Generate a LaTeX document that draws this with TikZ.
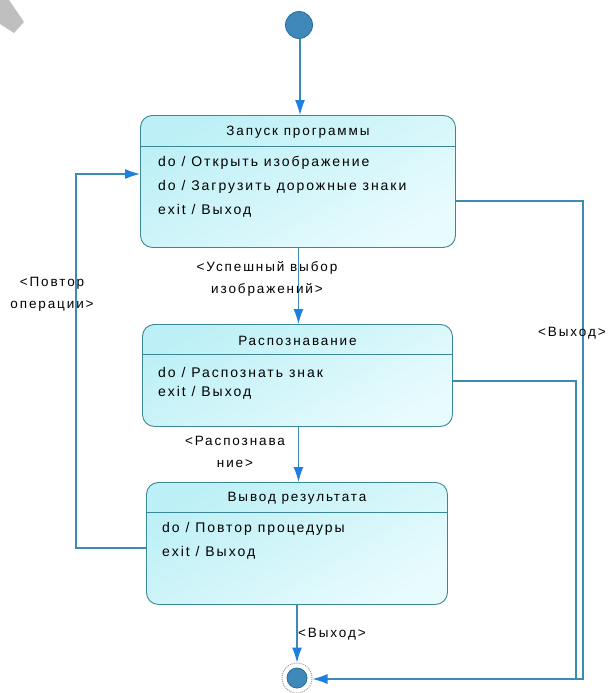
\documentclass[tikz,border=0pt]{standalone}
\usepackage{fontspec}
\setmainfont[LetterSpace=14]{Liberation Sans}
\usetikzlibrary{arrows.meta,calc}
\definecolor{edge}{HTML}{3C8795}
\definecolor{wire}{HTML}{3A8CB0}
\definecolor{tip}{HTML}{1E7FE0}
\definecolor{fillA}{HTML}{BDF0F6}
\definecolor{fillB}{HTML}{E8FBFD}
\definecolor{dot}{HTML}{3F88BA}
\definecolor{dotedge}{HTML}{2A6E9A}
\tikzset{
  statebox/.style={draw=edge, line width=0.9pt, rounded corners=12pt,
    top color=fillA, bottom color=fillB, shading angle=30, inner sep=0pt, anchor=north west},
  ttl/.style={font=\fontsize{13.5}{16}\selectfont, inner sep=0pt},
  act/.style={font=\fontsize{14}{16}\selectfont, inner sep=0pt, anchor=west},
  lbl/.style={font=\fontsize{13.5}{22}\selectfont, inner sep=0pt, align=center},
  wireline/.style={draw=wire, line width=1.2pt},
  arr/.style={wireline, -{Latex[length=15pt,width=10pt,color=tip]}},
}
\begin{document}
\begin{tikzpicture}[x=1pt,y=-1pt]
\useasboundingbox (0,0) rectangle (609,693);
\fill[white] (0,0) rectangle (609,693);
\fill[gray!50] (0,0) -- (9,0) -- (24,22) -- (14,33) -- (0,24) -- cycle;

% states
\node[statebox, minimum width=315pt, minimum height=132pt] (s1) at (140,115) {};
\node[statebox, minimum width=310pt, minimum height=102pt] (s2) at (142,324) {};
\node[statebox, minimum width=301pt, minimum height=122pt] (s3) at (146,482) {};

\draw[edge, line width=0.9pt] (s1.west |- 0,146) -- (s1.east |- 0,146);
\draw[edge, line width=0.9pt] (s2.west |- 0,354) -- (s2.east |- 0,354);
\draw[edge, line width=0.9pt] (s3.west |- 0,512) -- (s3.east |- 0,512);

\node[ttl] (t1) at (s1.north |- 0,132) {Запуск программы};
\node[act] (a11) at (158,163) {do / Открыть изображение};
\node[act] (a12) at (158,187) {do / Загрузить дорожные знаки};
\node[act] (a13) at (158,211) {exit / Выход};

\node[ttl] (t2) at (s2.north |- 0,341) {Распознавание};
\node[act] (a21) at (158,372) {do / Распознать знак};
\node[act] (a22) at (158,393) {exit / Выход};

\node[ttl] (t3) at (s3.north |- 0,498) {Вывод результата};
\node[act] (a31) at (162,529) {do / Повтор процедуры};
\node[act] (a32) at (162,553) {exit / Выход};

% pseudo states
\node[circle, fill=dot, draw=dotedge, line width=0.8pt, minimum size=27pt, inner sep=0pt] (init) at (299,25) {};
\node[circle, draw=gray!75, densely dotted, line width=1pt, minimum size=30pt, inner sep=0pt] (fin) at (297,678) {};
\node[circle, fill=dot, draw=dotedge, line width=0.8pt, minimum size=20pt, inner sep=0pt] (finin) at (fin.center) {};

% connectors
\coordinate (c0) at (300,115);
\draw[arr] (init.south -| c0) -- (c0);
\draw[arr] ($(s1.south)+(0.5,0)$) -- ($(s2.north)+(1,0)$);
\draw[arr] ($(s2.south)+(1,0)$) -- ($(s3.north)+(1.5,0)$);
\draw[arr] (s3.south -| fin.north) -- (fin.north);

\coordinate (l1) at (76,548);
\coordinate (l2) at (76,174);
\draw[arr] (s3.west |- l1) -- (l1) -- (l2) -- (s1.west |- l2);

\coordinate (r1) at (583,201);
\coordinate (r2) at (583,679);
\draw[arr] (s1.east |- r1) -- (r1) -- (r2) -- (fin.east |- r2);
\coordinate (q1) at (576,381);
\coordinate (q2) at (576,679);
\draw[wireline] (s2.east |- q1) -- (q1) -- (q2);

% labels
\node[lbl] (L1) at (52,294) {<Повтор\\операции>};
\node[lbl] (L2) at (267,279) {<Успешный выбор\\изображений>};
\node[lbl] (L3) at (235,452) {<Распознава\\ние>};
\node[lbl, anchor=west] (L4) at (298,634) {<Выход>};
\node[lbl, anchor=west] (L5) at (538,333) {<Выход>};
\end{tikzpicture}
\end{document}
